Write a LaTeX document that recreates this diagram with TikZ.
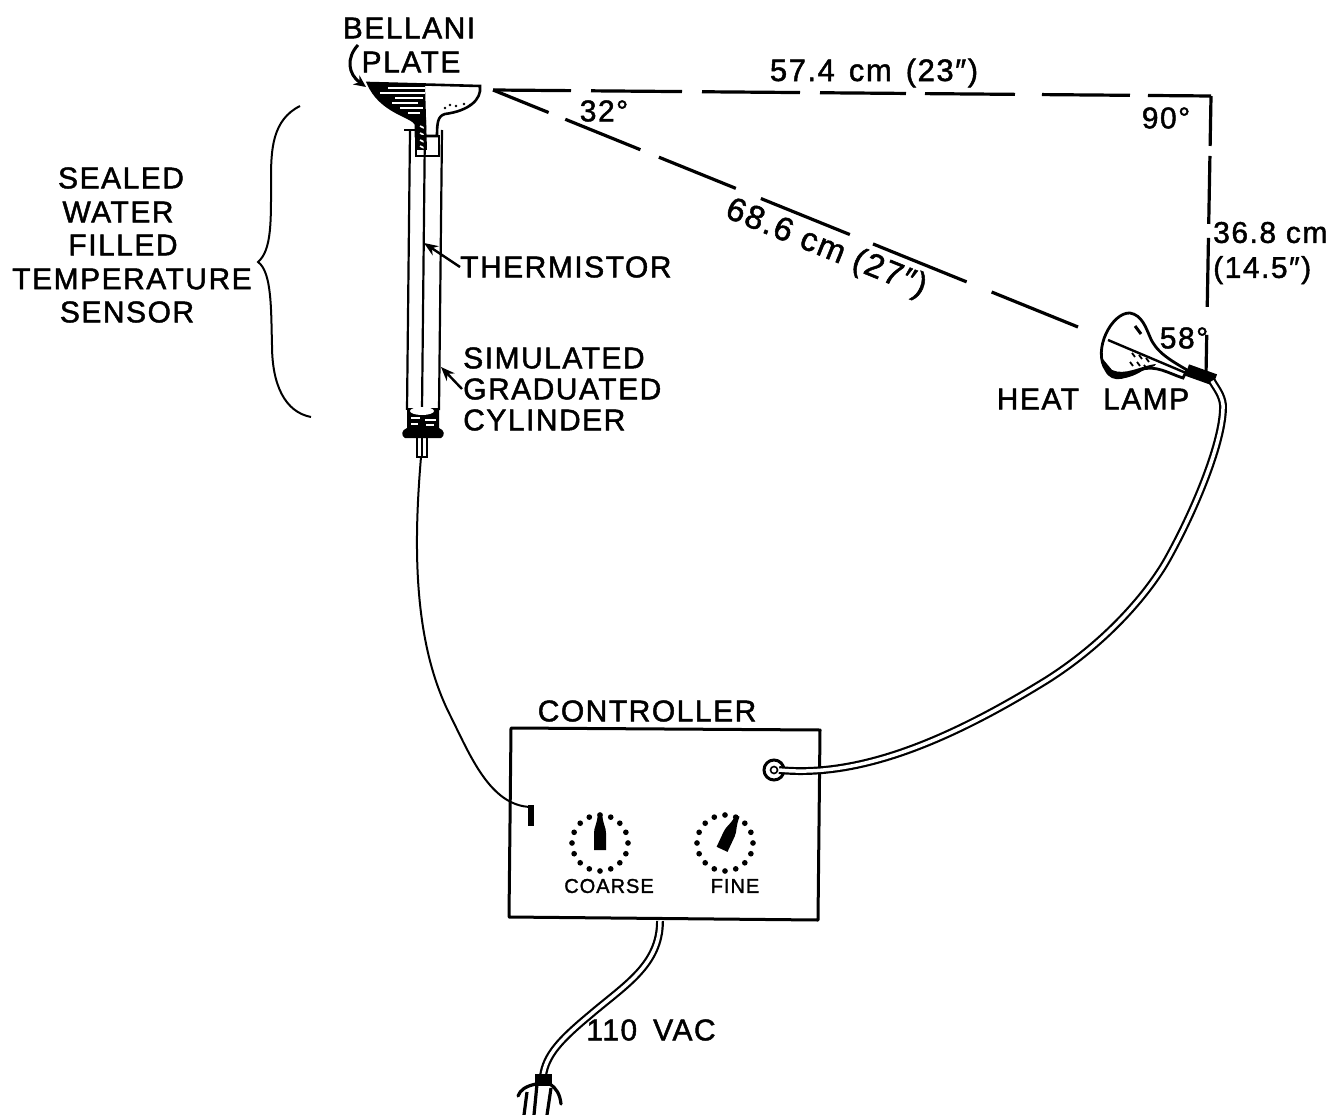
\documentclass[tikz,border=0pt]{standalone}
\usepackage{fontspec}
\setmainfont[LetterSpace=5,FakeBold=1.5]{Liberation Sans}
\usetikzlibrary{arrows.meta}
\tikzset{
  lbl/.style={inner sep=0pt,font=\fontsize{30}{32}\selectfont},
  smalllbl/.style={inner sep=0pt,font=\fontsize{20}{22}\selectfont},
  sightline/.style={line width=3.2pt},
  wire/.style={line width=2pt},
  cable/.style={line width=2.2pt,double=white,double distance=3.5pt},
  glass/.style={line width=2.2pt},
  pointer/.style={line width=2.4pt,-{Stealth[length=14pt,width=11pt]}},
  scaledot/.style={fill=black,circle,inner sep=2pt},
}
\begin{document}
\begin{tikzpicture}[x=1pt,y=-1pt]
\useasboundingbox (0,0) rectangle (1332,1115);
% sight lines
\coordinate (plate) at (493,90);
\coordinate (corner) at (1211,96);
\coordinate (lampfront) at (1078,327);
\coordinate (lampback) at (1206,375);
\draw[sightline,dash pattern=on 78pt off 20pt on 91pt off 20pt on 98pt off 20pt on 86pt off 19pt on 90pt off 27pt on 88pt off 18pt on 80pt] (plate) -- (corner);
\draw[sightline,dash pattern=on 50pt off 10pt on 68pt off 14pt on 69pt off 28pt on 60pt] (corner) -- (lampback);
\draw[sightline,dash pattern=on 60pt off 18pt on 81pt off 20pt on 83pt off 27pt on 96pt off 25pt on 101pt off 27pt on 100pt] (plate) -- (lampfront);
\node[lbl,font=\fontsize{31}{33}\selectfont] (topside) at (874,73) {57.4\hspace{14pt}cm\hspace{14pt}(23″)};
\node[lbl] (angleplate) at (604,111) {32°};
\node[lbl] (anglecorner) at (1166,118) {90°};
\node[lbl,rotate=-22,font=\fontsize{33}{35}\selectfont] (slant) at (826,249) {68.6 cm (27″)};
\node[lbl,align=left,anchor=west] (upright) at (1213,253) {36.8 cm\\[3pt](14.5″)};
\node[lbl] (anglelamp) at (1184,338) {58°};
% bellani plate
\node[lbl] (bellani) at (409,28) {BELLANI};
\node[lbl] (platelabel) at (411,62) {PLATE};
\draw[line width=3pt,-{Stealth[length=12pt,width=11pt]}] (358,45) .. controls (346,58) and (348,74) .. (366,87);
\draw[line width=2.6pt,fill=white] (368,83) -- (480,86) .. controls (482,100) and (468,111) .. (445,114)
  .. controls (438,116) and (437,122) .. (437,136) -- (416,136) -- (416,124)
  .. controls (412,116) and (380,112) .. (368,83) -- cycle;
\fill (368,83) -- (425,85) -- (427,150) -- (417,150) -- (416,124) .. controls (412,116) and (380,112) .. (368,83) -- cycle;
\foreach \ya/\xa/\xb in {88/388/425,93/380/425,98/395/423,103/392/418,108/400/423,113/408/420}
  \draw[white,line width=1.6pt] (\xa,\ya) -- (\xb,\ya);
\foreach \ya in {126,133,140,146}
  \draw[white,line width=1.6pt] (420,\ya) -- (424,\ya+2);
\foreach \xa/\ya in {445/108,450/105,456/106,464/104,470/105}
  \fill (\xa,\ya) circle (1.4pt);
% tube of the sensor
\draw[glass] (410,130) -- (407,410);
\draw[glass] (442,130) -- (439,410);
\draw[glass] (425,120) -- (422,410);
\draw[glass] (404,130) -- (416,130);
\draw[line width=2.2pt] (416,136) rectangle (439,156);
% foot of the tube
\fill (407,408) -- (439,408) -- (439,428) .. controls (445,430) and (445,436) .. (441,438) -- (405,438) .. controls (401,436) and (401,430) .. (407,428) -- cycle;
\fill[white] (422,411) ellipse (12pt and 4pt);
\draw[white,line width=1.4pt] (411,418) -- (420,418) (425,420) -- (436,420) (411,424) -- (418,424) (426,425) -- (434,425);
\draw[glass] (417,438) -- (417,457) -- (427,457) -- (427,438);
\draw[line width=1.5pt] (422,438) -- (422,457);
\coordinate (sensorend) at (421,457);
\foreach \cx/\ya/\word in {121/178/SEALED,118/212/WATER,123/245/FILLED,132/279/TEMPERATURE,127/312/SENSOR}
  \node[lbl] at (\cx,\ya) {\word};
\draw[line width=2pt] (300,106) .. controls (272,120) and (271,150) .. (271,180)
  .. controls (271,220) and (272,250) .. (258,262)
  .. controls (272,272) and (271,310) .. (272,345)
  .. controls (272,385) and (285,412) .. (311,417);
\node[lbl,anchor=west] (thermistor) at (460,267) {THERMISTOR};
\draw[pointer] (thermistor.west) -- (424,243);
\node[lbl,align=left,anchor=west] (cylinder) at (463,389) {SIMULATED\\[-1pt]GRADUATED\\[-1pt]CYLINDER};
\draw[pointer] (462,389) -- (441,367);
% heat lamp
\draw[line width=2.8pt,fill=white] (1130,313) .. controls (1142,315) and (1146,328) .. (1150,337)
  .. controls (1156,352) and (1170,360) .. (1187,370) -- (1183,378)
  .. controls (1170,374) and (1155,364) .. (1140,370)
  .. controls (1128,376) and (1113,384) .. (1106,370)
  .. controls (1092,350) and (1112,312) .. (1130,313) -- cycle;
\draw[line width=2.4pt] (1108,340) -- (1186,373);
\draw[line width=3pt] (1135,326) -- (1141,334);
\fill (1102,358) .. controls (1104,382) and (1125,382) .. (1142,371) .. controls (1150,367) and (1155,367) .. (1156,364) .. controls (1140,366) and (1125,376) .. (1112,370) -- cycle;
\foreach \xa/\ya in {1132/353,1139/355,1146/358,1130/362,1137/362,1144/365}
  \draw[line width=1.8pt] (\xa,\ya) -- (\xa+3,\ya+4);
\draw[line width=12pt] (1187,370) -- (1215,380);
\coordinate (lampcollar) at (1212,381);
\node[lbl] (heatlamp) at (1093,399) {HEAT\hspace{24pt}LAMP};
% controller
\node[lbl] (controllerlabel) at (647,711) {CONTROLLER};
\draw[line width=3pt,line join=round] (511,728) -- (820,730) -- (818,920) -- (509,917) -- cycle;
\draw[line width=3pt] (774,770) circle (10pt);
\draw[line width=1.6pt] (774,770) circle (3.5pt);
\coordinate (socket) at (779,770);
\draw[line width=6pt] (531,805) -- (531,826);
\coordinate (inlet) at (531,807);
\node[smalllbl] (coarse) at (609,886) {COARSE};
\node[smalllbl] (fine) at (735,886) {FINE};
\foreach \cx/\cy/\tilt in {600/843/0,725/843/-25}{
  \foreach \ang in {0,22.5,...,337.5}
    \node[scaledot] at ({\cx+28*cos(\ang)},{\cy+28*sin(\ang)}) {};
  \fill[rotate around={\tilt:(\cx,\cy)}] (\cx-6,\cy+7) -- (\cx+6,\cy+7) -- (\cx+6,\cy-10)
    .. controls (\cx+6,\cy-16) and (\cx+3,\cy-18) .. (\cx+2,\cy-30) -- (\cx-2,\cy-30)
    .. controls (\cx-3,\cy-18) and (\cx-6,\cy-16) .. (\cx-6,\cy-10) -- cycle;
}
% leads
\draw[wire] (sensorend) .. controls (414,540) and (412,640) .. (450,715)
  .. controls (470,755) and (490,806) .. (inlet);
\draw[cable] (socket) .. controls (860,778) and (950,740) .. (1047,680)
  .. controls (1110,640) and (1150,590) .. (1167,560)
  .. controls (1195,510) and (1224,440) .. (1223,405)
  .. controls (1222,395) and (1216,388) .. (lampcollar);
% mains cable
\coordinate (outlet) at (660,921);
\coordinate (plug) at (543,1076);
\draw[cable] (outlet) .. controls (660,965) and (625,985) .. (590,1015)
  .. controls (560,1040) and (546,1055) .. (plug);
\fill (535,1074) rectangle (552,1086);
\draw[line width=3.2pt,line cap=round] (536,1084) .. controls (526,1086) and (520,1090) .. (518,1096);
\draw[line width=3.2pt,line cap=round] (550,1084) .. controls (556,1088) and (560,1094) .. (561,1104);
\draw[line width=3.2pt] (527,1092) -- (524,1115) (537,1084) -- (534,1115) (551,1088) -- (547,1115);
\node[lbl] (mains) at (651,1030) {110\hspace{16pt}VAC};
\end{tikzpicture}
\end{document}
